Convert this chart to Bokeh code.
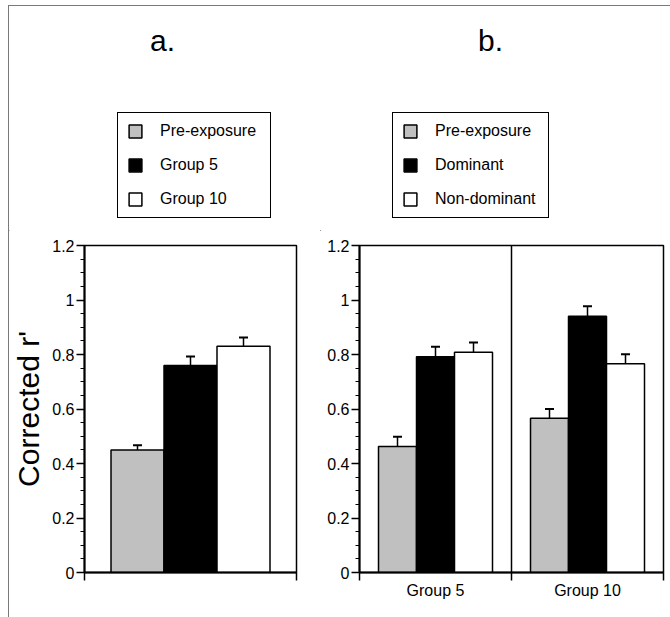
from bokeh.plotting import figure
from bokeh.models import (ColumnDataSource, Whisker, TeeHead, FixedTicker, Legend,
                          LegendItem, Label, Span, Spacer)
from bokeh.layouts import row, column
from bokeh.embed import file_html
from bokeh.resources import INLINE

# ---------------- data ----------------
# panel a
a_series = ["Pre-exposure", "Group 5", "Group 10"]
a_means = [0.45, 0.76, 0.83]
a_errors = [0.017, 0.033, 0.032]

# panel b
b_groups = ["Group 5", "Group 10"]
b_series = ["Pre-exposure", "Dominant", "Non-dominant"]
b_pre = [0.462, 0.566]
b_pre_err = [0.036, 0.034]
b_dom = [0.792, 0.940]
b_dom_err = [0.036, 0.037]
b_nondom = [0.808, 0.766]
b_nondom_err = [0.036, 0.035]

y_ticks = [0, 0.2, 0.4, 0.6, 0.8, 1, 1.2]
y_tick_labels = ["0", "0.2", "0.4", "0.6", "0.8", "1", "1.2"]
y_label = "Corrected r'"
panel_titles = ["a.", "b."]

# ---------------- style ----------------
FONT = "Liberation Sans"
COLORS = ["#c0c0c0", "#000000", "#ffffff"]
y_minor = [round(i * 0.05, 2) for i in range(25) if i % 4 != 0]
TOP_H = 225


def style_y(ax):
    ax.ticker = FixedTicker(ticks=y_ticks, minor_ticks=y_minor)
    ax.major_label_overrides = dict(zip(y_ticks, y_tick_labels))
    ax.axis_line_width = 2
    ax.major_tick_out = 8
    ax.major_tick_in = 0
    ax.minor_tick_out = 4
    ax.minor_tick_in = 0
    ax.major_tick_line_width = 1.5
    ax.minor_tick_line_width = 1
    ax.major_label_text_font = FONT
    ax.major_label_text_font_size = "16px"
    ax.major_label_text_color = "black"
    ax.major_label_standoff = 2


def base_fig(width, height, xmax, bl, br, bt, bb):
    p = figure(width=width, height=height, x_range=(0, xmax), y_range=(0, 1.2),
               output_backend="svg", toolbar_location=None,
               min_border_left=bl, min_border_right=br,
               min_border_top=bt, min_border_bottom=bb)
    p.xgrid.visible = False
    p.ygrid.visible = False
    p.outline_line_color = "black"
    p.outline_line_width = 1.5
    p.outline_line_alpha = 1
    p.background_fill_color = "white"
    p.border_fill_color = "white"
    return p


def top_fig(width):
    # header strip holding the panel letter and the legend; its ranges lie far
    # from the data, so the legend's own renderers stay out of view
    t = figure(width=width, height=TOP_H, x_range=(100, 101), y_range=(100, 101),
               output_backend="svg", toolbar_location=None,
               x_axis_type=None, y_axis_type=None, min_border=0)
    t.outline_line_color = None
    t.background_fill_color = "white"
    t.border_fill_color = "white"
    return t


def make_legend(t, names, sources, loc, label_width):
    items = []
    for name, color, src in zip(names, COLORS, sources):
        r = t.vbar(x="x", top="top", bottom=0, width=1.0, source=src, fill_color=color,
                   line_color="black", line_width=1.5)
        items.append(LegendItem(label=name, renderers=[r]))
    leg = Legend(items=items, location=loc, orientation="vertical",
                 border_line_color="black", border_line_width=1.5, border_line_alpha=1,
                 background_fill_color="white", background_fill_alpha=1,
                 label_text_font=FONT, label_text_font_size="16px",
                 label_text_color="black",
                 glyph_width=16, glyph_height=16, label_height=16,
                 label_width=label_width, label_standoff=17,
                 spacing=16, padding=9, margin=0)
    t.add_layout(leg)


def add_bars(p, xs, tops, errs, color):
    src = ColumnDataSource(dict(x=xs, top=tops, upper=[t + e for t, e in zip(tops, errs)]))
    p.vbar(x="x", top="top", bottom=0, width=1.0, source=src,
           fill_color=color, line_color="black", line_width=1.5)
    p.add_layout(Whisker(source=src, base="x", lower="top", upper="upper",
                         line_color="black", line_width=1.5,
                         upper_head=TeeHead(size=9, line_width=2, line_color="black"),
                         lower_head=None))
    return src


def add_title(t, text, x, y):
    t.add_layout(Label(x=x, y=y, x_units="screen", y_units="screen", text=text,
                       text_font=FONT, text_font_size="30px", text_align="center",
                       text_baseline="alphabetic", text_color="black"))


# ---------------- panel a ----------------
pa = base_fig(311, 611 - TOP_H, 4, 74, 24, 14, 39)
a_sources = []
for i, (m, e) in enumerate(zip(a_means, a_errors)):
    a_sources.append(add_bars(pa, [i + 1], [m], [e], COLORS[i]))

style_y(pa.yaxis[0])
pa.yaxis.axis_label = y_label
pa.yaxis.axis_label_text_font = FONT
pa.yaxis.axis_label_text_font_size = "30px"
pa.yaxis.axis_label_text_font_style = "normal"
pa.yaxis.axis_label_text_color = "black"
pa.yaxis.axis_label_standoff = 4

xa = pa.xaxis[0]
xa.ticker = FixedTicker(ticks=[], minor_ticks=[0, 4])
xa.axis_line_width = 2
xa.minor_tick_out = 8
xa.minor_tick_in = 0
xa.minor_tick_line_width = 1.5
xa.major_tick_out = 0
xa.major_tick_in = 0

ta = top_fig(311)
make_legend(ta, a_series, a_sources, (108, 13), 101)
add_title(ta, panel_titles[0], 153, 191)

# ---------------- panel b ----------------
pb = base_fig(350, 611 - TOP_H, 8, 39, 7, 14, 45)
b_sources = []
for j, (vals, errs) in enumerate(zip([b_pre, b_dom, b_nondom],
                                     [b_pre_err, b_dom_err, b_nondom_err])):
    xs = [g * 4 + j + 1 for g in range(len(b_groups))]
    b_sources.append(add_bars(pb, xs, vals, errs, COLORS[j]))

pb.add_layout(Span(location=4, dimension="height", line_color="black", line_width=1.5))

style_y(pb.yaxis[0])

xb = pb.xaxis[0]
group_centers = [g * 4 + 2 for g in range(len(b_groups))]
xb.ticker = FixedTicker(ticks=group_centers, minor_ticks=[0, 4, 8])
xb.major_label_overrides = dict(zip(group_centers, b_groups))
xb.axis_line_width = 2
xb.major_tick_out = 0
xb.major_tick_in = 0
xb.minor_tick_out = 8
xb.minor_tick_in = 0
xb.minor_tick_line_width = 1.5
xb.major_label_text_font = FONT
xb.major_label_text_font_size = "16px"
xb.major_label_text_color = "black"
xb.major_label_standoff = 1

tb = top_fig(350)
make_legend(tb, b_series, b_sources, (72, 13), 104)
add_title(tb, panel_titles[1], 170, 191)

# ---------------- page frame ----------------
FRAME = "#7a7a7a"
top_line = row(Spacer(width=8, height=1),
               Spacer(width=662, height=1, styles={"background-color": FRAME}))
left_line = Spacer(width=1, height=611, styles={"background-color": FRAME})
panels = column(row(ta, tb), row(pa, pb))
layout = column(Spacer(width=670, height=5),
                top_line,
                row(Spacer(width=8, height=611), left_line, panels))

open("out.html", "w").write(file_html(layout, INLINE))
